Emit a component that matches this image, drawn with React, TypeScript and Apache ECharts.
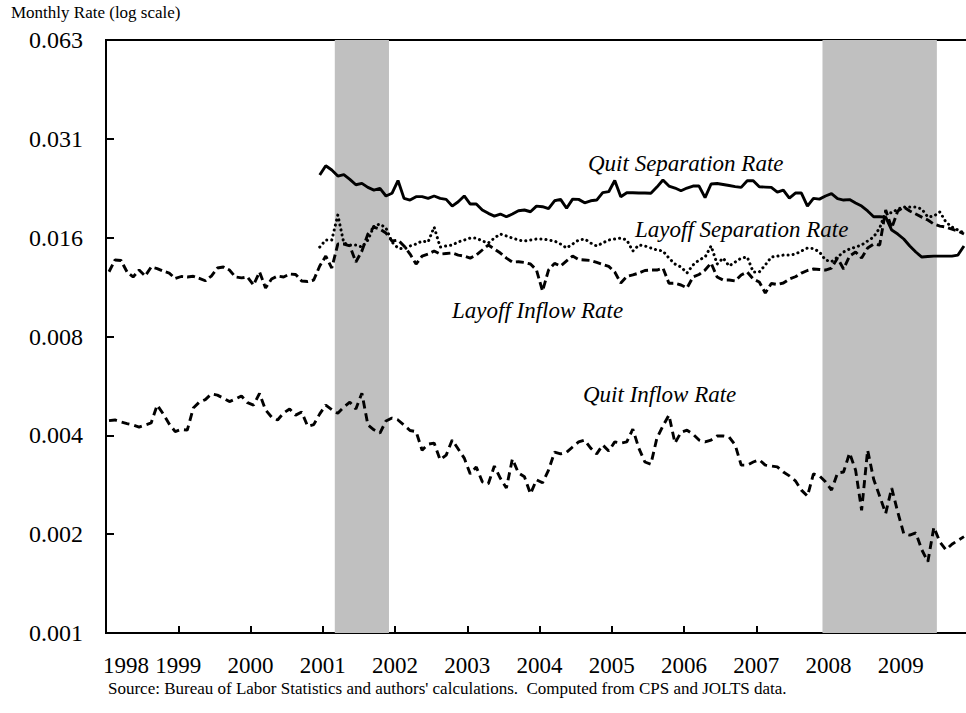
import React, { useEffect, useRef } from 'react';
import * as echarts from 'echarts';

// Year tick labels on the x axis
const yearLabels = ['1998', '1999', '2000', '2001', '2002', '2003', '2004', '2005', '2006', '2007', '2008', '2009'];
// Log-scale (base 2) tick labels on the y axis, from 2^-10 to 2^-4
const yTickLabels = ['0.001', '0.002', '0.004', '0.008', '0.016', '0.031', '0.063'];

// Recessions (NBER), as fractional years [start, end]
const recession2001 = [2001 + 2 / 12, 2001 + 11 / 12];
const recession2008 = [2007 + 11 / 12, 2009 + 6 / 12];

// Month index (0 = Jan 1998) of the first observation of each series
const inflowStartMonth = 0;      // CPS-based inflow rates start Jan 1998
const separationStartMonth = 35; // JOLTS separation rates start Dec 2000

const quitSeparation = [
  0.02424, 0.02588, 0.02511, 0.02407, 0.02430, 0.02352, 0.02265, 0.02287, 0.02223, 0.02182,
  0.02208, 0.02093, 0.02133, 0.02333, 0.02058, 0.02034, 0.02083, 0.02083, 0.02058, 0.02093,
  0.02058, 0.02044, 0.01950, 0.02010, 0.02093, 0.01978, 0.01978, 0.01897, 0.01853, 0.01818,
  0.01844, 0.01809, 0.01844, 0.01888, 0.01897, 0.01874, 0.01950, 0.01941, 0.01914, 0.02024,
  0.02044, 0.01920, 0.02048, 0.02044, 0.01996, 0.02024, 0.02034, 0.02142, 0.02157, 0.02333,
  0.02083, 0.02142, 0.02142, 0.02137, 0.02137, 0.02133, 0.02228, 0.02341, 0.02244, 0.02213,
  0.02171, 0.02213, 0.02244, 0.02244, 0.02068, 0.02276, 0.02284, 0.02268, 0.02252, 0.02236,
  0.02223, 0.02328, 0.02328, 0.02233, 0.02228, 0.02223, 0.02151, 0.02182, 0.02062, 0.02137,
  0.02137, 0.01950, 0.02058, 0.02048, 0.02093, 0.02129, 0.02055, 0.02034, 0.02041, 0.01992,
  0.01950, 0.01884, 0.01809, 0.01809, 0.01805, 0.01648, 0.01603, 0.01548, 0.01474, 0.01413,
  0.01364, 0.01369, 0.01373, 0.01373, 0.01373, 0.01373, 0.01383, 0.01474,
];

const layoffSeparation = [
  0.01463, 0.01537, 0.01537, 0.01831, 0.01505, 0.01484, 0.01484, 0.01463, 0.01537, 0.01695,
  0.01719, 0.01672, 0.01516, 0.01453, 0.01443, 0.01474, 0.01494, 0.01526, 0.01516, 0.01683,
  0.01463, 0.01474, 0.01484, 0.01516, 0.01537, 0.01558, 0.01558, 0.01526, 0.01505, 0.01558,
  0.01603, 0.01581, 0.01558, 0.01537, 0.01526, 0.01537, 0.01548, 0.01548, 0.01537, 0.01526,
  0.01494, 0.01453, 0.01494, 0.01537, 0.01548, 0.01505, 0.01474, 0.01505, 0.01537, 0.01548,
  0.01558, 0.01537, 0.01423, 0.01484, 0.01474, 0.01453, 0.01433, 0.01423, 0.01354, 0.01299,
  0.01272, 0.01220, 0.01290, 0.01336, 0.01364, 0.01474, 0.01299, 0.01354, 0.01281, 0.01317,
  0.01354, 0.01364, 0.01228, 0.01228, 0.01290, 0.01364, 0.01373, 0.01383, 0.01383, 0.01393,
  0.01423, 0.01453, 0.01448, 0.01413, 0.01336, 0.01320, 0.01364, 0.01413, 0.01443, 0.01463,
  0.01484, 0.01526, 0.01570, 0.01672, 0.01871, 0.01858, 0.01910, 0.01937, 0.01937, 0.01937,
  0.01910, 0.01806, 0.01818, 0.01871, 0.01744, 0.01683, 0.01648, 0.01614,
];

const layoffInflow = [
  0.01230, 0.01336, 0.01331, 0.01228, 0.01186, 0.01245, 0.01194, 0.01272, 0.01258, 0.01236,
  0.01219, 0.01173, 0.01190, 0.01186, 0.01192, 0.01175, 0.01155, 0.01194, 0.01263, 0.01272,
  0.01245, 0.01186, 0.01178, 0.01186, 0.01121, 0.01228, 0.01098, 0.01169, 0.01194, 0.01186,
  0.01211, 0.01207, 0.01153, 0.01149, 0.01161, 0.01281, 0.01373, 0.01263, 0.01494, 0.01494,
  0.01474, 0.01317, 0.01423, 0.01603, 0.01683, 0.01660, 0.01614, 0.01526, 0.01537, 0.01474,
  0.01393, 0.01299, 0.01373, 0.01393, 0.01423, 0.01393, 0.01398, 0.01403, 0.01383, 0.01373,
  0.01354, 0.01383, 0.01433, 0.01484, 0.01443, 0.01403, 0.01354, 0.01317, 0.01320, 0.01313,
  0.01299, 0.01245, 0.01075, 0.01245, 0.01305, 0.01281, 0.01327, 0.01373, 0.01340, 0.01336,
  0.01331, 0.01313, 0.01295, 0.01277, 0.01228, 0.01137, 0.01190, 0.01203, 0.01219, 0.01241,
  0.01245, 0.01245, 0.01263, 0.01135, 0.01135, 0.01121, 0.01098, 0.01186, 0.01207, 0.01245,
  0.01308, 0.01186, 0.01161, 0.01161, 0.01153, 0.01203, 0.01228, 0.01169, 0.01145, 0.01060,
  0.01133, 0.01125, 0.01137, 0.01169, 0.01188, 0.01219, 0.01241, 0.01254, 0.01250, 0.01245,
  0.01263, 0.01354, 0.01254, 0.01373, 0.01413, 0.01354, 0.01453, 0.01494, 0.01484, 0.01897,
  0.01672, 0.01884, 0.01937, 0.01884, 0.01844, 0.01805, 0.01768, 0.01719, 0.01695, 0.01683,
  0.01660, 0.01637, 0.01603,
];

const quitInflow = [
  0.00433, 0.00435, 0.00429, 0.00424, 0.00420, 0.00414, 0.00420, 0.00426, 0.00483, 0.00454,
  0.00423, 0.00401, 0.00407, 0.00405, 0.00473, 0.00493, 0.00502, 0.00522, 0.00518, 0.00507,
  0.00495, 0.00504, 0.00515, 0.00491, 0.00483, 0.00524, 0.00467, 0.00444, 0.00435, 0.00457,
  0.00470, 0.00450, 0.00460, 0.00416, 0.00421, 0.00454, 0.00483, 0.00468, 0.00456, 0.00476,
  0.00493, 0.00470, 0.00525, 0.00420, 0.00406, 0.00397, 0.00432, 0.00441, 0.00435, 0.00420,
  0.00404, 0.00401, 0.00352, 0.00367, 0.00370, 0.00329, 0.00340, 0.00378, 0.00355, 0.00333,
  0.00298, 0.00313, 0.00282, 0.00278, 0.00315, 0.00289, 0.00270, 0.00331, 0.00300, 0.00292,
  0.00259, 0.00286, 0.00280, 0.00306, 0.00347, 0.00343, 0.00347, 0.00360, 0.00373, 0.00378,
  0.00357, 0.00343, 0.00365, 0.00350, 0.00373, 0.00370, 0.00373, 0.00408, 0.00357, 0.00324,
  0.00319, 0.00383, 0.00417, 0.00450, 0.00370, 0.00399, 0.00405, 0.00394, 0.00378, 0.00373,
  0.00378, 0.00389, 0.00389, 0.00386, 0.00365, 0.00317, 0.00317, 0.00324, 0.00329, 0.00317,
  0.00315, 0.00313, 0.00302, 0.00294, 0.00284, 0.00266, 0.00255, 0.00298, 0.00294, 0.00282,
  0.00266, 0.00300, 0.00302, 0.00345, 0.00306, 0.00231, 0.00352, 0.00287, 0.00255, 0.00226,
  0.00270, 0.00228, 0.00196, 0.00194, 0.00197, 0.00175, 0.00161, 0.00205, 0.00185, 0.00175,
  0.00182, 0.00187, 0.00192,
];

const toPairs = (values: number[], startMonth: number) =>
  values.map((v, i) => [1998 + (startMonth + i + 0.5) / 12, v]);

const FONT = 'Liberation Serif';

const annotation = (text: string, x: number, y: number) => ({
  type: 'text',
  x,
  y,
  z: 100,
  silent: true,
  style: {
    text,
    fill: '#000',
    fontFamily: FONT,
    fontSize: 23,
    fontStyle: 'italic',
    align: 'left',
    verticalAlign: 'middle',
    textAlign: 'left',
    textVerticalAlign: 'middle',
  },
});

export default function App() {
  const ref = useRef<HTMLDivElement>(null);

  useEffect(() => {
    document.body.style.margin = '0';
    if (!ref.current) return;
    const chart = echarts.init(ref.current, undefined, { renderer: 'svg' });

    const lineBase = {
      type: 'line' as const,
      showSymbol: false,
      symbol: 'none',
      z: 3,
      silent: true,
    };

    chart.setOption({
      animation: false,
      backgroundColor: '#fff',
      textStyle: { fontFamily: FONT },
      grid: {
        left: 106,
        top: 40,
        right: -7,
        bottom: 80,
        show: true,
        borderColor: '#000',
        borderWidth: 2,
        backgroundColor: 'transparent',
        containLabel: false,
        outerBoundsMode: 'none',
      },
      xAxis: {
        type: 'value',
        min: 1998,
        max: 2010,
        interval: 1,
        splitLine: { show: false },
        axisLine: { lineStyle: { color: '#000', width: 2 } },
        axisTick: { inside: true, length: 7, lineStyle: { color: '#000', width: 2 } },
        axisLabel: {
          color: '#000',
          fontFamily: FONT,
          fontSize: 23,
          margin: 21,
          showMinLabel: true,
          showMaxLabel: false,
          hideOverlap: false,
          formatter: (v: number) => {
            const i = Math.round(v) - 1998;
            const label = yearLabels[i] ?? '';
            return i === 0 ? `{first|${label}}` : label;
          },
          rich: {
            first: {
              color: '#000',
              fontFamily: FONT,
              fontSize: 23,
              padding: [0, 0, 0, 40],
            },
          },
        },
      },
      yAxis: {
        type: 'log',
        logBase: 2,
        min: Math.pow(2, -10),
        max: Math.pow(2, -4),
        splitLine: { show: false },
        axisLine: { show: true, lineStyle: { color: '#000', width: 2 } },
        axisTick: { show: true, inside: true, length: 8, lineStyle: { color: '#000', width: 2 } },
        axisLabel: {
          color: '#000',
          fontFamily: FONT,
          fontSize: 24,
          margin: 23,
          showMinLabel: true,
          showMaxLabel: true,
          formatter: (v: number) => yTickLabels[Math.round(Math.log2(v)) + 10] ?? '',
        },
      },
      series: [
        {
          type: 'line',
          data: [],
          z: 1,
          silent: true,
          markArea: {
            silent: true,
            itemStyle: { color: '#c0c0c0', opacity: 1 },
            data: [
              [{ xAxis: recession2001[0] }, { xAxis: recession2001[1] }],
              [{ xAxis: recession2008[0] }, { xAxis: recession2008[1] }],
            ],
          },
        },
        {
          ...lineBase,
          name: 'Quit Separation Rate',
          data: toPairs(quitSeparation, separationStartMonth),
          lineStyle: { color: '#000', width: 2.9, type: 'solid' },
        },
        {
          ...lineBase,
          name: 'Layoff Separation Rate',
          data: toPairs(layoffSeparation, separationStartMonth),
          lineStyle: { color: '#000', width: 3, type: [0.1, 5], cap: 'round' },
        },
        {
          ...lineBase,
          name: 'Layoff Inflow Rate',
          data: toPairs(layoffInflow, inflowStartMonth),
          lineStyle: { color: '#000', width: 2.9, type: [8, 4] },
        },
        {
          ...lineBase,
          name: 'Quit Inflow Rate',
          data: toPairs(quitInflow, inflowStartMonth),
          lineStyle: { color: '#000', width: 2.9, type: [8, 5] },
        },
      ],
      graphic: [
        {
          type: 'text',
          x: 11,
          y: 12,
          z: 100,
          silent: true,
          style: {
            text: 'Monthly Rate (log scale)',
            fill: '#000',
            fontFamily: FONT,
            fontSize: 17,
            align: 'left',
            verticalAlign: 'middle',
            textAlign: 'left',
            textVerticalAlign: 'middle',
          },
        },
        {
          type: 'text',
          x: 108,
          y: 688,
          z: 100,
          silent: true,
          style: {
            text: "Source: Bureau of Labor Statistics and authors' calculations.  Computed from CPS and JOLTS data.",
            fill: '#000',
            fontFamily: FONT,
            fontSize: 17,
            align: 'left',
            verticalAlign: 'middle',
            textAlign: 'left',
            textVerticalAlign: 'middle',
          },
        },
        annotation('Quit Separation Rate', 588, 163),
        annotation('Layoff Separation Rate', 635, 229),
        annotation('Layoff Inflow Rate', 452, 310),
        annotation('Quit Inflow Rate', 583, 394),
      ],
    });

    return () => chart.dispose();
  }, []);

  return <div ref={ref} style={{ width: 966, height: 713 }} />;
}
